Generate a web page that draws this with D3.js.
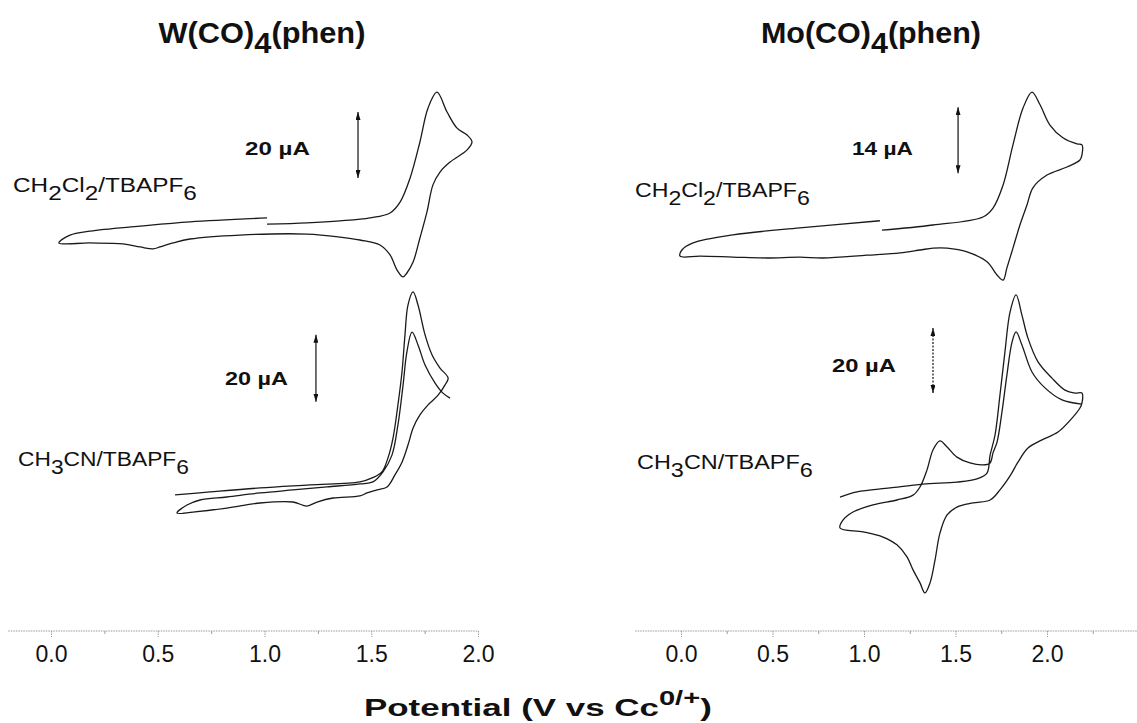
<!DOCTYPE html>
<html>
<head>
<meta charset="utf-8">
<script src="https://cdn.jsdelivr.net/npm/d3@7"></script>
<style>
  body { margin: 0; background: #fff; }
  text { font-family: "Liberation Sans", Arial, sans-serif; fill: #111; }
</style>
</head>
<body>
<svg id="chart"></svg>
<script>
// potential (V vs Cc0/+), current (uA)
const wDcm = [[1.012,4.8],[1.199,5.2],[1.354,5.8],[1.494,6.7],[1.588,8.2],[1.635,11.5],[1.682,18.8],[1.728,29.7],[1.766,40.0],[1.808,44.8],[1.855,38.8],[1.902,33.9],[1.949,31.8],[1.972,29.7],[1.949,27.3],[1.869,23.6],[1.822,20.6],[1.789,16.7],[1.761,8.5],[1.728,0.6],[1.696,-6.7],[1.667,-10.0],[1.649,-11.2],[1.621,-9.1],[1.588,-4.5],[1.541,-1.5],[1.447,0],[1.354,0.9],[1.199,1.8],[0.885,1.5],[0.651,0.3],[0.571,-0.9],[0.511,-2.1],[0.478,-2.7],[0.417,-2.1],[0.337,-1.2],[0.183,-0.9],[0.037,-0.9],[0.089,1.5],[0.183,2.7],[0.417,4.2],[0.651,5.5],[1.012,6.7]]

const wMecn = [[0.581,1.5],[0.745,2.4],[0.979,3.6],[1.213,4.5],[1.447,5.4],[1.504,6.6],[1.550,8.4],[1.578,12.5],[1.602,18.5],[1.625,28.4],[1.644,38.2],[1.658,49.3],[1.672,58.2],[1.696,62.1],[1.719,58.2],[1.752,49.3],[1.785,43.3],[1.822,39.4],[1.860,36.4],[1.845,34.3],[1.813,31.3],[1.766,28.4],[1.728,25.4],[1.696,21.5],[1.672,16.4],[1.644,11.3],[1.611,7.5],[1.574,3.9],[1.527,3.0],[1.480,2.1],[1.447,1.2],[1.321,0.6],[1.246,-0.6],[1.199,-1.8],[1.133,-0.6],[0.979,-0.9],[0.824,-2.4],[0.665,-3.6],[0.590,-3.9],[0.637,-1.5],[0.698,0],[0.824,0.9],[0.979,2.1],[1.133,3.0],[1.293,3.9],[1.447,4.8],[1.508,5.4],[1.555,8.4],[1.597,13.4],[1.625,22.4],[1.649,34.3],[1.667,44.2],[1.691,50.1],[1.719,46.3],[1.752,40.3],[1.799,34.9],[1.836,31.9],[1.869,30.4]]

const moDcm = [[1.098,4.2],[1.377,5.3],[1.650,7.0],[1.705,8.9],[1.760,13.8],[1.814,22.3],[1.869,30.1],[1.918,33.5],[1.962,30.8],[2.016,26.5],[2.087,23.8],[2.164,22.5],[2.191,22.3],[2.191,20.2],[2.180,19.1],[2.109,17.6],[2.000,15.9],[1.923,13.2],[1.891,9.6],[1.852,5.3],[1.814,0.4],[1.781,-3.8],[1.760,-6.4],[1.727,-5.3],[1.672,-2.5],[1.563,-0.4],[1.454,0.4],[1.377,0.4],[1.306,0],[1.197,-0.6],[1.016,-1.1],[0.776,-1.7],[0.650,-1.5],[0.470,-1.7],[0.284,-1.5],[0.104,-1.3],[-0.005,-1.3],[0.005,0],[0.066,1.5],[0.284,3.2],[0.650,4.7],[1.087,6.2]]

const moMecn = [[0.869,0.9],[0.962,2.5],[1.142,3.7],[1.322,4.9],[1.508,5.5],[1.617,6.5],[1.672,8.3],[1.689,13.8],[1.716,20.0],[1.743,32.3],[1.770,45.5],[1.798,57.8],[1.831,63.1],[1.863,56.9],[1.896,49.8],[1.951,42.5],[2.027,37.5],[2.098,33.8],[2.153,32.9],[2.191,32.9],[2.191,29.8],[2.180,28.3],[2.137,25.2],[2.060,20.9],[1.973,18.5],[1.896,16.0],[1.842,11.7],[1.798,7.4],[1.743,3.1],[1.689,0],[1.596,-0.9],[1.508,-2.2],[1.454,-4.6],[1.415,-10.2],[1.388,-18.5],[1.361,-25.5],[1.333,-28.6],[1.306,-25.5],[1.268,-21.5],[1.235,-17.5],[1.180,-13.8],[1.104,-11.4],[0.995,-9.8],[0.869,-8.6],[0.885,-6.2],[0.940,-3.7],[1.049,-1.5],[1.180,0],[1.268,1.5],[1.306,4.0],[1.344,9.2],[1.377,15.4],[1.415,18.2],[1.454,16.3],[1.508,13.2],[1.579,11.4],[1.650,10.8],[1.689,11.4],[1.705,14.5],[1.727,17.8],[1.754,27.1],[1.781,38.5],[1.809,48.6],[1.831,51.7],[1.863,47.7],[1.918,39.4],[1.989,34.5],[2.082,30.8],[2.191,29.5]]

// scale bars: potential, lower current, span (uA)
const barWDcm = [1.438, 18.8, 20]
const barWMecn = [1.241, 29.3, 20]
const barMoDcm = [1.514, 16.3, 14]
const barMoMecn = [1.377, 32.9, 20]

const majorTicks = [0, 0.5, 1.0, 1.5, 2.0]
const minorTicksW = [0.25, 0.75, 1.25, 1.75]
const minorTicksMo = [0.25, 0.75, 1.25, 1.75, 2.25]
const tickFormat = d3.format(".1f")

function drawChart() {
    const width = 1137
    const height = 723

    const svg = d3.select("#chart")
        .attr("width", width)
        .attr("height", height)

    const defs = svg.append("defs")
    defs.append("marker")
        .attr("id", "head")
        .attr("markerUnits", "userSpaceOnUse")
        .attr("markerWidth", 8)
        .attr("markerHeight", 5)
        .attr("refX", 8)
        .attr("refY", 2.5)
        .attr("orient", "auto-start-reverse")
        .append("path")
        .attr("d", "M0,0 L8,2.5 L0,5 Z")
        .attr("fill", "#111")

    // x scales, one per complex
    const xW = d3.scaleLinear().domain([-0.2, 2.0]).range([8.3, 478])
    const xMo = d3.scaleLinear().domain([-0.25, 2.5]).range([635.25, 1138.5])

    // y scales, one per trace (uA)
    const yWDcm = d3.scaleLinear().domain([0, 20]).range([240, 174])
    const yWMecn = d3.scaleLinear().domain([0, 20]).range([500, 433])
    const yMoDcm = d3.scaleLinear().domain([0, 14]).range([250, 184])
    const yMoMecn = d3.scaleLinear().domain([0, 20]).range([500, 435])

    const traces = [
        [wDcm, xW, yWDcm],
        [wMecn, xW, yWMecn],
        [moDcm, xMo, yMoDcm],
        [moMecn, xMo, yMoMecn]
    ]

    traces.forEach(t => {
        const line = d3.line()
            .x(d => t[1](d[0]))
            .y(d => t[2](d[1]))
            .curve(d3.curveCatmullRom.alpha(0.5))
        svg.append("path")
            .datum(t[0])
            .attr("d", line)
            .attr("fill", "none")
            .attr("stroke", "#1a1a1a")
            .attr("stroke-width", 1.3)
    })

    // scale bars
    const bars = [
        [barWDcm, xW, yWDcm, false],
        [barWMecn, xW, yWMecn, false],
        [barMoDcm, xMo, yMoDcm, false],
        [barMoMecn, xMo, yMoMecn, true]
    ]
    bars.forEach(b => {
        svg.append("line")
            .attr("x1", b[1](b[0][0]))
            .attr("x2", b[1](b[0][0]))
            .attr("y1", b[2](b[0][1]))
            .attr("y2", b[2](b[0][1] + b[0][2]))
            .attr("stroke", "#111")
            .attr("stroke-width", 1.2)
            .attr("stroke-dasharray", b[3] ? "2,1.5" : null)
            .attr("marker-start", "url(#head)")
            .attr("marker-end", "url(#head)")
    })

    // x axes
    const axisY = 631
    function drawAxis(x, minor) {
        const g = svg.append("g").attr("transform", `translate(0,${axisY})`)
        g.append("line")
            .attr("x1", x.range()[0]).attr("x2", x.range()[1])
            .attr("stroke", "#9a9a9a").attr("stroke-width", 1)
            .attr("stroke-dasharray", "1.5,1")
        const major = g.append("g").call(d3.axisBottom(x)
            .tickValues(majorTicks)
            .tickFormat(tickFormat)
            .tickSize(6)
            .tickPadding(9))
        major.select(".domain").remove()
        major.selectAll(".tick line").attr("stroke", "#9a9a9a").attr("stroke-dasharray", "1.5,1")
        major.selectAll(".tick text")
            .attr("font-size", 23)
            .attr("font-family", "Liberation Sans, Arial, sans-serif")
            .attr("fill", "#111")
        const mn = g.append("g").call(d3.axisBottom(x)
            .tickValues(minor)
            .tickFormat("")
            .tickSize(3))
        mn.select(".domain").remove()
        mn.selectAll(".tick line").attr("stroke", "#9a9a9a")
    }
    drawAxis(xW, minorTicksW)
    drawAxis(xMo, minorTicksMo)

    // text with sub/superscripts, stretched to the width seen in the scan
    function label(x, y, parts, size, weight, w, centre) {
        const t = svg.append("text")
            .attr("font-size", size)
            .attr("font-weight", weight)
        let prev = 0
        parts.forEach(p => {
            const shift = p[1] || 0
            t.append("tspan")
                .attr("dy", shift - prev)
                .attr("font-size", p[2] || size)
                .text(p[0])
            prev = shift
        })
        const bw = t.node().getBBox().width
        const s = w / bw
        const x0 = centre ? x - w / 2 : x
        t.attr("transform", `translate(${x0},${y}) scale(${s},1)`)
    }

    label(262, 43, [["W(CO)"], ["4", 10], ["(phen)", 0]], 30, "bold", 207, true)
    label(871, 43, [["Mo(CO)"], ["4", 10], ["(phen)", 0]], 30, "bold", 220, true)

    label(13, 192, [["CH"], ["2", 8], ["Cl", 0], ["2", 8], ["/TBAPF", 0], ["6", 8]], 21, "normal", 184)
    label(635, 197, [["CH"], ["2", 8], ["Cl", 0], ["2", 8], ["/TBAPF", 0], ["6", 8]], 21, "normal", 175)
    label(18, 466, [["CH"], ["3", 8], ["CN/TBAPF", 0], ["6", 8]], 21, "normal", 171)
    label(637, 469, [["CH"], ["3", 8], ["CN/TBAPF", 0], ["6", 8]], 21, "normal", 176)

    label(245, 155, [["20 \u00b5A"]], 18, "bold", 65)
    label(225, 385, [["20 \u00b5A"]], 18, "bold", 63)
    label(852, 155, [["14 \u00b5A"]], 18, "bold", 61)
    label(832, 372, [["20 \u00b5A"]], 18, "bold", 64)

    label(538, 716, [["Potential (V vs Cc"], ["0/+", -11, 20], [")", 0]], 24, "bold", 348, true)
}

drawChart()
</script>
</body>
</html>
